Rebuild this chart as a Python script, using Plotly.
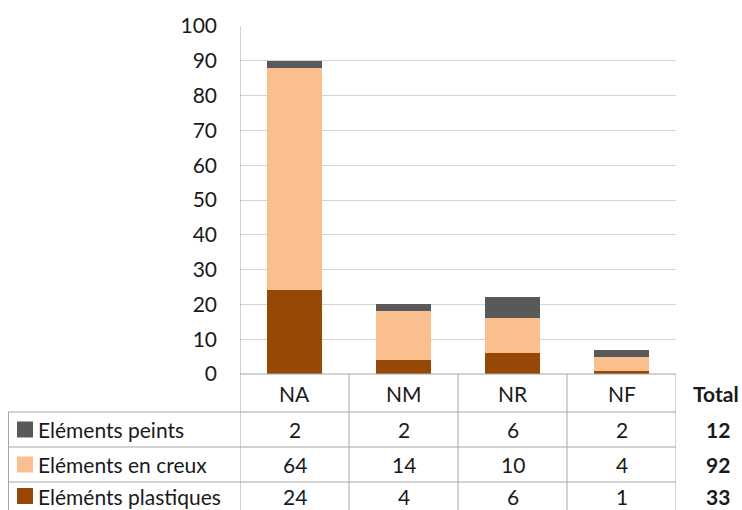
import plotly.graph_objects as go

categories = ['NA', 'NM', 'NR', 'NF']
row_labels = ['Eléments peints', 'Eléments en creux', 'Eléménts plastiques']
peints = [2, 2, 6, 2]
creux = [64, 14, 10, 4]
plastiques = [24, 4, 6, 1]
totals = [12, 92, 33]   # printed totals, same order as row_labels

colors = {'peints': '#595959', 'creux': '#fabf8f', 'plastiques': '#974706'}
row_colors = [colors['peints'], colors['creux'], colors['plastiques']]
row_values = [peints, creux, plastiques]

W, H = 742, 510
FONT = 'Lato'
TXT = '#1a1a1a'
LINE = '#a6a6a6'

def px(x):
    return x / W

def py(y):
    return 1 - y / H

# table geometry (page pixels)
zero_y = 374
top_y = 26
row_edges = [374, 412, 447, 482, 510]
table_left = 8
plot_left, plot_right = 240, 676

fig = go.Figure()
fig.add_trace(go.Bar(x=categories, y=plastiques, name=row_labels[2],
                     marker=dict(color=colors['plastiques'], line_width=0)))
fig.add_trace(go.Bar(x=categories, y=creux, name=row_labels[1],
                     marker=dict(color=colors['creux'], line_width=0)))
fig.add_trace(go.Bar(x=categories, y=peints, name=row_labels[0],
                     marker=dict(color=colors['peints'], line_width=0)))

shapes = []
# vertical table lines
for i in range(len(categories) + 1):
    y_top = top_y if i == 0 else zero_y
    shapes.append(dict(type='line', xref='x', yref='paper',
                       x0=i - 0.5, x1=i - 0.5, y0=py(y_top), y1=0,
                       line=dict(color=LINE, width=1)))
shapes.append(dict(type='line', xref='paper', yref='paper',
                   x0=px(table_left) + 0.5 / W, x1=px(table_left) + 0.5 / W,
                   y0=py(row_edges[1]), y1=0,
                   line=dict(color=LINE, width=1)))
# horizontal table lines
shapes.append(dict(type='line', xref='paper', yref='paper',
                   x0=px(plot_left), x1=px(plot_right), y0=py(zero_y), y1=py(zero_y),
                   line=dict(color=LINE, width=1)))
for e in row_edges[1:4]:
    shapes.append(dict(type='line', xref='paper', yref='paper',
                       x0=px(table_left), x1=px(plot_right), y0=py(e), y1=py(e),
                       line=dict(color=LINE, width=1)))
# legend keys
for r, c in enumerate(row_colors):
    cy = (row_edges[r + 1] + row_edges[r + 2]) / 2
    shapes.append(dict(type='rect', xref='paper', yref='paper',
                       x0=px(17), x1=px(33), y0=py(cy - 8), y1=py(cy + 8),
                       fillcolor=c, line_width=0))

annotations = []
FS = 21

def label(x, xref, y, text, xanchor='center', size=FS):
    return dict(x=x, xref=xref, y=py(y), yref='paper', text=text,
                xanchor=xanchor, yanchor='middle', showarrow=False,
                font=dict(size=size))

hy = (row_edges[0] + row_edges[1]) / 2
for c in categories:
    annotations.append(label(c, 'x', hy, c))
annotations.append(label(px(741), 'paper', hy, '<b>Total</b>', xanchor='right'))
for r, (lab, vals, tot) in enumerate(zip(row_labels, row_values, totals)):
    cy = (row_edges[r + 1] + row_edges[r + 2]) / 2
    annotations.append(label(px(36), 'paper', cy, lab, xanchor='left'))
    for c, v in zip(categories, vals):
        annotations.append(label(c, 'x', cy, str(v)))
    annotations.append(label(px(718), 'paper', cy, '<b>%d</b>' % tot))

fig.update_layout(
    width=W, height=H,
    margin=dict(l=0, r=0, t=0, b=0, pad=0, autoexpand=False),
    paper_bgcolor='white', plot_bgcolor='white',
    font=dict(family=FONT, size=FS, color=TXT),
    barmode='stack', bargap=0.5,
    showlegend=False,
    xaxis=dict(domain=[px(plot_left), px(plot_right)], range=[-0.5, 3.5],
               automargin=False,
               showticklabels=False, showgrid=False, zeroline=False, showline=False),
    yaxis=dict(domain=[py(zero_y), py(top_y)], range=[0, 100], dtick=10,
               automargin=False,
               showgrid=True, gridcolor='#d4d4d4', gridwidth=1,
               zeroline=False, showline=False, ticks='',
               ticklabelstandoff=22, tickfont=dict(size=21, color=TXT)),
    shapes=shapes, annotations=annotations,
)

# drop the default page margin so the figure fills the window exactly
fig.write_html('out.html', config={'displayModeBar': False},
               post_script="document.body.style.margin='0';"
                           "document.body.style.overflow='hidden';")
